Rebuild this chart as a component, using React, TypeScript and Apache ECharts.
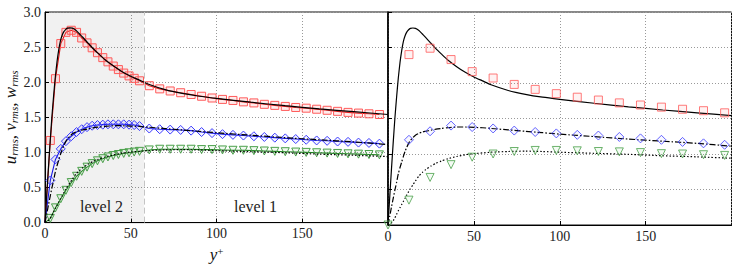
import React, { useEffect, useRef } from "react";
import * as echarts from "echarts";

// ---------- data ----------
// LES, level 2 (fine) region
const yPlusL2 = [3.1, 6.1, 9.2, 12.2, 15.3, 18.4, 21.4, 24.5, 27.5, 30.6, 33.7, 36.7, 39.8, 42.8, 45.9, 49.0, 52.0, 55.1];
const uL2 = [1.17, 2.05, 2.55, 2.71, 2.74, 2.71, 2.63, 2.56, 2.49, 2.42, 2.35, 2.29, 2.23, 2.18, 2.13, 2.09, 2.055, 2.02];
const vL2 = [0.60, 0.90, 1.05, 1.16, 1.23, 1.29, 1.33, 1.36, 1.38, 1.39, 1.395, 1.40, 1.40, 1.40, 1.40, 1.395, 1.39, 1.375];
const wL2 = [0.06, 0.21, 0.34, 0.46, 0.57, 0.66, 0.73, 0.79, 0.84, 0.88, 0.91, 0.935, 0.955, 0.97, 0.985, 0.995, 1.005, 1.015];
// LES, level 1 region
const yPlusL1 = [60.8, 66.9, 73.0, 79.1, 85.2, 91.3, 97.4, 103.5, 109.6, 115.7, 121.8, 127.9, 134.0, 140.1, 146.2, 152.3, 158.4, 164.5, 170.6, 176.7, 182.8, 188.9, 195.0];
const uL1 = [1.95, 1.905, 1.875, 1.85, 1.825, 1.80, 1.775, 1.755, 1.74, 1.72, 1.705, 1.685, 1.67, 1.655, 1.64, 1.63, 1.615, 1.60, 1.585, 1.57, 1.56, 1.55, 1.54];
const vL1 = [1.34, 1.33, 1.325, 1.32, 1.31, 1.29, 1.275, 1.26, 1.25, 1.24, 1.23, 1.22, 1.21, 1.20, 1.19, 1.18, 1.17, 1.165, 1.155, 1.15, 1.14, 1.135, 1.125];
const wL1 = [1.035, 1.045, 1.045, 1.045, 1.045, 1.04, 1.04, 1.035, 1.03, 1.03, 1.025, 1.02, 1.015, 1.01, 1.005, 1.0, 0.995, 0.99, 0.985, 0.98, 0.975, 0.97, 0.965];
// Coarse run (right panel)
const yPlusR = [12.2, 24.5, 36.7, 49.0, 61.2, 73.5, 85.7, 98.0, 110.2, 122.5, 134.7, 147.0, 159.2, 171.5, 183.7, 196.0];
const uR = [2.40, 2.49, 2.33, 2.16, 2.07, 1.98, 1.91, 1.85, 1.80, 1.76, 1.72, 1.69, 1.66, 1.63, 1.61, 1.58];
const vR = [1.20, 1.32, 1.40, 1.38, 1.36, 1.33, 1.31, 1.29, 1.27, 1.26, 1.24, 1.22, 1.20, 1.17, 1.15, 1.13];
const wR = [0.35, 0.67, 0.85, 0.955, 1.00, 1.035, 1.05, 1.05, 1.045, 1.035, 1.03, 1.02, 1.005, 1.0, 0.99, 0.98];
// DNS reference
const yPlusDns = [0, 1, 2, 3, 4, 5, 6, 7, 8, 9, 10, 11, 12, 13, 14.5, 16, 18, 20, 22, 25, 28, 31, 35, 40, 45, 50, 55, 60, 70, 80, 90, 100, 120, 140, 160, 180, 200];
const uDns = [0, 0.39, 0.78, 1.15, 1.5, 1.8, 2.07, 2.29, 2.46, 2.59, 2.67, 2.72, 2.75, 2.77, 2.775, 2.77, 2.74, 2.69, 2.64, 2.56, 2.48, 2.41, 2.32, 2.23, 2.15, 2.085, 2.03, 1.975, 1.895, 1.84, 1.80, 1.77, 1.715, 1.665, 1.62, 1.58, 1.54];
const vDns = [0, 0.12, 0.25, 0.37, 0.49, 0.60, 0.72, 0.81, 0.89, 0.97, 1.04, 1.10, 1.15, 1.19, 1.23, 1.265, 1.29, 1.31, 1.32, 1.335, 1.35, 1.36, 1.37, 1.38, 1.38, 1.375, 1.37, 1.36, 1.34, 1.32, 1.30, 1.28, 1.245, 1.21, 1.18, 1.15, 1.11];
const wDns = [0, 0.01, 0.03, 0.06, 0.10, 0.15, 0.20, 0.245, 0.29, 0.335, 0.38, 0.425, 0.47, 0.51, 0.565, 0.62, 0.69, 0.74, 0.78, 0.83, 0.87, 0.90, 0.935, 0.965, 0.99, 1.005, 1.015, 1.025, 1.035, 1.04, 1.035, 1.025, 1.01, 0.995, 0.975, 0.96, 0.94];
const levelBoundary = 57.7;
const xTicks = { min: 0, max: 200, interval: 50 };
const yTicks = { min: 0, max: 3, interval: 0.5 };

const FONT = "Liberation Serif";
const CSS = `#chart-root svg text { font-family: 'Liberation Serif', 'DejaVu Serif', serif !important; }`;

const zip = (xs: number[], ys: number[]) => xs.map((x, i) => [x, ys[i]]);

function lesSeries(xs: number[], ys: number[], symbol: string, lineColor: string, markerColor: string, fill: string, size: number, rotate = 0) {
  return {
    type: "line",
    xAxisIndex: 0,
    yAxisIndex: 0,
    data: [{ value: [0, 0], symbolSize: 0 }, ...zip(xs, ys)],
    symbol,
    symbolSize: size,
    symbolRotate: rotate,
    showAllSymbol: true,
    lineStyle: { color: lineColor, width: 1.1 },
    itemStyle: { color: fill, borderColor: markerColor, borderWidth: 1 },
    z: 3,
  };
}

function dnsSeries(grid: number, ys: number[], type: any) {
  return {
    type: "line",
    xAxisIndex: grid,
    yAxisIndex: grid,
    data: zip(yPlusDns, ys),
    symbol: "none",
    smooth: 0.2,
    lineStyle: { color: "#000", width: 1.2, type },
    z: 4,
  };
}

function coarseSeries(xs: number[], ys: number[], symbol: string, markerColor: string, fill: string, size: number, rotate = 0) {
  return {
    type: "scatter",
    xAxisIndex: 1,
    yAxisIndex: 1,
    data: zip(xs, ys),
    symbol,
    symbolSize: size,
    symbolRotate: rotate,
    itemStyle: { color: fill, borderColor: markerColor, borderWidth: 1 },
    z: 5,
  };
}

export default function App() {
  const ref = useRef<HTMLDivElement>(null);
  useEffect(() => {
    if (!ref.current) return;
    const chart = echarts.init(ref.current, undefined, { renderer: "svg" });
    const labelStyle = { fontFamily: FONT, fontSize: 14, color: "#222" };
    const splitLine = { show: true, lineStyle: { color: "#999", width: 1, type: [1, 2] } };
    const xAxisBase = (gridIndex: number) => ({
      type: "value",
      gridIndex,
      ...xTicks,
      axisLabel: { ...labelStyle, margin: 4, showMaxLabel: false },
      axisTick: { show: true, inside: true, length: 4, lineStyle: { color: "#000" } },
      axisLine: { show: true, onZero: false, lineStyle: { color: "#000", width: 1 } },
      splitLine,
    });
    const dashDot = [6, 2, 1.5, 2];
    const dotted = [1.5, 2];
    const option: any = {
      animation: false,
      backgroundColor: "#fff",
      textStyle: { fontFamily: FONT },
      grid: [
        { left: 45, top: 12, width: 343, height: 213, show: true, borderColor: "#111", borderWidth: 1 },
        { left: 388, top: 12, width: 343.5, height: 213, show: true, borderColor: "#111", borderWidth: 1 },
      ],
      xAxis: [
        {
          ...xAxisBase(0),
          name: "{i|y}{s|+}",
          nameLocation: "middle",
          nameGap: 21,
          nameTextStyle: {
            fontFamily: FONT,
            rich: {
              i: { fontFamily: FONT, fontStyle: "italic", fontSize: 17, lineHeight: 18, color: "#111" },
              s: { fontFamily: FONT, fontSize: 11, lineHeight: 10, verticalAlign: "top", color: "#111" },
            },
          },
        },
        xAxisBase(1),
      ],
      yAxis: [
        {
          type: "value",
          gridIndex: 0,
          ...yTicks,
          axisLabel: { ...labelStyle, margin: 4, formatter: (v: number) => v.toFixed(1) },
          axisTick: { show: true, inside: true, length: 4, lineStyle: { color: "#000" } },
          axisLine: { show: true, onZero: false, lineStyle: { color: "#000", width: 1 } },
          splitLine,
          name: "{i|u}{s|rms}{i|, v}{s|rms}{i|, w}{s|rms}",
          nameLocation: "middle",
          nameGap: 25,
          nameRotate: 90,
          nameTextStyle: {
            fontFamily: FONT,
            rich: {
              i: { fontFamily: FONT, fontStyle: "italic", fontSize: 17, lineHeight: 18, color: "#111" },
              s: { fontFamily: FONT, fontStyle: "italic", fontSize: 11, lineHeight: 10, verticalAlign: "bottom", color: "#111" },
            },
          },
        },
        {
          type: "value",
          gridIndex: 1,
          ...yTicks,
          axisLabel: { show: false },
          axisTick: { show: true, inside: true, length: 4, lineStyle: { color: "#000" } },
          axisLine: { show: true, onZero: false, lineStyle: { color: "#000", width: 1.5 } },
          splitLine,
        },
      ],
      graphic: [
        { type: "text", left: 80, top: 198, style: { text: "level 2", font: "16px 'Liberation Serif', serif", fill: "#222" }, z: 10 },
        { type: "text", left: 234, top: 198, style: { text: "level 1", font: "16px 'Liberation Serif', serif", fill: "#222" }, z: 10 },
      ],
      series: [
        {
          type: "line",
          xAxisIndex: 0,
          yAxisIndex: 0,
          data: [],
          z: 1,
          markArea: {
            silent: true,
            itemStyle: { color: "rgba(0,0,0,0.055)" },
            data: [[{ xAxis: 0 }, { xAxis: levelBoundary }]],
          },
          markLine: {
            silent: true,
            symbol: "none",
            label: { show: false },
            lineStyle: { color: "#c4c4c4", width: 1, type: [6, 3] },
            data: [{ xAxis: levelBoundary }],
          },
        },
        lesSeries([...yPlusL2, ...yPlusL1], [...uL2, ...uL1], "rect", "#e01010", "#ff5a5a", "rgba(255,120,120,0.15)", 8),
        lesSeries([...yPlusL2, ...yPlusL1], [...vL2, ...vL1], "diamond", "#1414e6", "#3c3cff", "rgba(120,120,255,0.08)", 9),
        lesSeries([...yPlusL2, ...yPlusL1], [...wL2, ...wL1], "triangle", "#1f7f1f", "#4aa04a", "rgba(120,200,120,0.1)", 8, 180),
        dnsSeries(0, uDns, "solid"),
        dnsSeries(0, vDns, dashDot),
        dnsSeries(0, wDns, dotted),
        dnsSeries(1, uDns, "solid"),
        dnsSeries(1, vDns, dashDot),
        dnsSeries(1, wDns, dotted),
        coarseSeries(yPlusR, uR, "rect", "#ff5a5a", "rgba(255,120,120,0.12)", 8),
        coarseSeries(yPlusR, vR, "diamond", "#3c3cff", "rgba(120,120,255,0.08)", 9),
        coarseSeries([0, ...yPlusR], [0, ...wR], "triangle", "#4aa04a", "rgba(120,200,120,0.1)", 8, 180),
      ],
    };
    chart.setOption(option);
    return () => chart.dispose();
  }, []);
  return (
    <>
      <style>{CSS}</style>
      <div id="chart-root" ref={ref} style={{ position: "fixed", left: 0, top: 0, width: 747, height: 268 }} />
    </>
  );
}
